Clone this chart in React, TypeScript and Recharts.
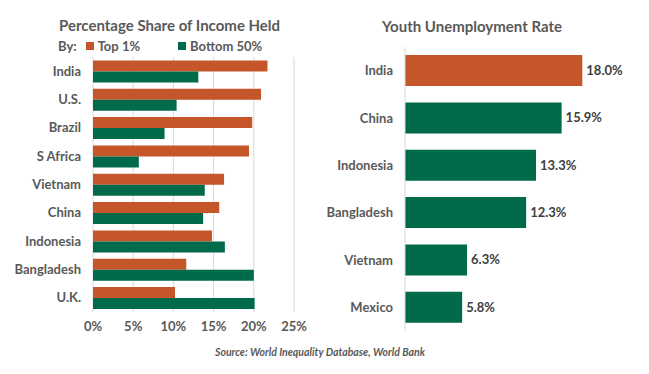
import React from 'react';
import {
  BarChart,
  Bar,
  XAxis,
  YAxis,
  CartesianGrid,
  Cell,
  LabelList,
} from 'recharts';

const ORANGE = '#C4562A';
const GREEN = '#016A4B';
const TEXT = '#595959';
const FONT = 'Lato, "Open Sans", sans-serif';

// Left chart: share of income held
const incomeCountries = ['India', 'U.S.', 'Brazil', 'S Africa', 'Vietnam', 'China', 'Indonesia', 'Bangladesh', 'U.K.'];
const top1Share = [21.7, 20.9, 19.8, 19.4, 16.3, 15.7, 14.8, 11.6, 10.2];
const bottom50Share = [13.1, 10.4, 8.9, 5.7, 13.9, 13.7, 16.4, 20.0, 20.1];
const shareTicks = [0, 5, 10, 15, 20, 25];

// Right chart: youth unemployment
const youthCountries = ['India', 'China', 'Indonesia', 'Bangladesh', 'Vietnam', 'Mexico'];
const youthRate = [18.0, 15.9, 13.3, 12.3, 6.3, 5.8];

const incomeData = incomeCountries.map((c, i) => ({
  country: c,
  top1: top1Share[i],
  bottom50: bottom50Share[i],
}));

const youthData = youthCountries.map((c, i) => ({ country: c, rate: youthRate[i] }));

const tickStyle = { fontSize: 13, fill: TEXT, fontWeight: 700, fontFamily: FONT };

const App: React.FC = () => {
  return (
    <div
      style={{
        position: 'absolute',
        left: 0,
        top: 0,
        width: 649,
        height: 374,
        background: '#fff',
        fontFamily: FONT,
        color: TEXT,
        overflow: 'hidden',
      }}
    >
      {/* left title + legend */}
      <div style={{ position: 'absolute', left: 59, top: 16, fontSize: 15, fontWeight: 700, whiteSpace: 'nowrap' }}>
        Percentage Share of Income Held
      </div>
      <div
        style={{
          position: 'absolute',
          left: 58,
          top: 38,
          fontSize: 13,
          fontWeight: 700,
          display: 'flex',
          alignItems: 'center',
          whiteSpace: 'nowrap',
        }}
      >
        <span>By:</span>
        <span style={{ width: 8, height: 8, background: ORANGE, marginLeft: 9, marginRight: 4 }} />
        <span>Top 1%</span>
        <span style={{ width: 8, height: 8, background: GREEN, marginLeft: 38, marginRight: 4 }} />
        <span>Bottom 50%</span>
      </div>

      <div style={{ position: 'absolute', left: 0, top: 0 }}>
        <BarChart
          width={320}
          height={345}
          data={incomeData}
          layout="vertical"
          margin={{ top: 57, right: 26, left: 0, bottom: 8 }}
          barCategoryGap="12%"
          barGap={0}
        >
          <CartesianGrid horizontal={false} stroke="#D9D9D9" />
          <XAxis
            type="number"
            domain={[0, 25]}
            ticks={shareTicks}
            tickFormatter={(v) => `${v}%`}
            tick={tickStyle}
            axisLine={false}
            tickLine={false}
            tickSize={0}
            tickMargin={10}
            height={25}
            interval={0}
          />
          <YAxis
            type="category"
            dataKey="country"
            width={93}
            tick={tickStyle}
            axisLine={false}
            tickLine={false}
            tickSize={0}
            tickMargin={12}
            interval={0}
          />
          <Bar dataKey="top1" fill={ORANGE} isAnimationActive={false} />
          <Bar dataKey="bottom50" fill={GREEN} isAnimationActive={false} />
        </BarChart>
      </div>

      {/* right title */}
      <div
        style={{
          position: 'absolute',
          left: 330,
          width: 284,
          top: 17,
          textAlign: 'center',
          fontSize: 15,
          fontWeight: 700,
          whiteSpace: 'nowrap',
        }}
      >
        Youth Unemployment Rate
      </div>

      <div style={{ position: 'absolute', left: 315, top: 0 }}>
        <BarChart
          width={325}
          height={345}
          data={youthData}
          layout="vertical"
          margin={{ top: 47, right: 38, left: 0, bottom: 14 }}
          barCategoryGap="17%"
        >
          <XAxis type="number" domain={[0, 20]} hide />
          <YAxis
            type="category"
            dataKey="country"
            width={90}
            tick={tickStyle}
            axisLine={{ stroke: '#D9D9D9' }}
            tickLine={false}
            tickSize={0}
            tickMargin={12}
            interval={0}
          />
          <Bar dataKey="rate" isAnimationActive={false}>
            {youthData.map((d, i) => (
              <Cell key={d.country} fill={i === 0 ? ORANGE : GREEN} />
            ))}
            <LabelList
              dataKey="rate"
              position="right"
              offset={4}
              formatter={(v: number) => `${Number(v).toFixed(1)}%`}
              style={{ fontSize: 13, fontWeight: 700, fill: '#404040', fontFamily: FONT }}
            />
          </Bar>
        </BarChart>
      </div>

      <div
        style={{
          position: 'absolute',
          left: 0,
          width: 640,
          top: 346,
          textAlign: 'center',
          fontSize: 10.5,
          fontWeight: 700,
          fontStyle: 'italic',
          color: TEXT,
        }}
      >
        Source: World Inequality Database, World Bank
      </div>
    </div>
  );
};

export default App;
